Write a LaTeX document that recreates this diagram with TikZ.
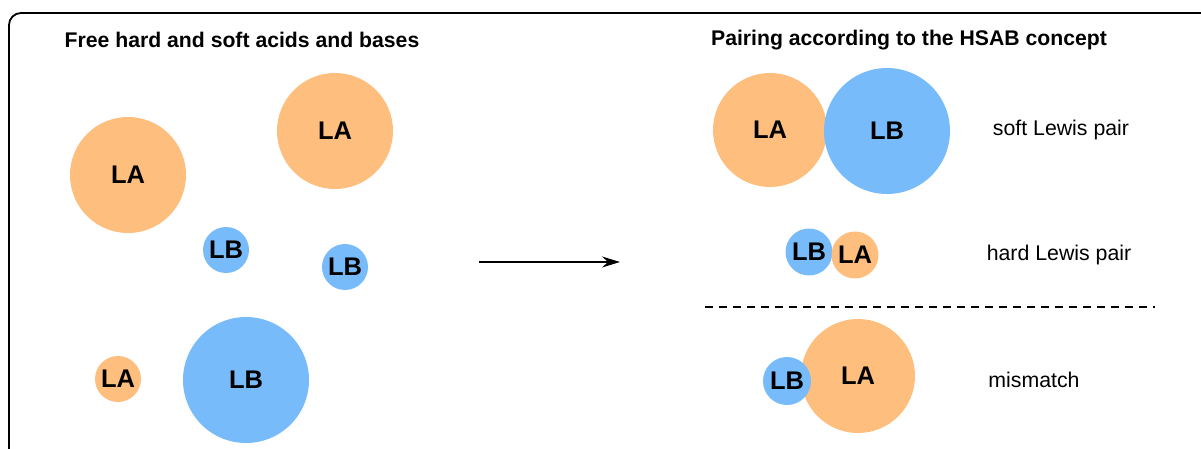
\documentclass[tikz,border=0pt]{standalone}
\usepackage{fontspec}
\setmainfont{Liberation Sans}
\usetikzlibrary{arrows.meta}
\definecolor{acid}{RGB}{254,190,125}
\definecolor{base}{RGB}{120,187,250}
\tikzset{
  la/.style={circle, fill=acid, draw=none, inner sep=0pt, font=\fontsize{25.5}{27}\selectfont\bfseries},
  lb/.style={circle, fill=base, draw=none, inner sep=0pt, font=\fontsize{25.5}{27}\selectfont\bfseries},
  ttl/.style={font=\fontsize{21.2}{23}\selectfont\bfseries, inner sep=0pt},
  lbl/.style={font=\fontsize{21.3}{23}\selectfont, inner sep=0pt},
}
\begin{document}
\begin{tikzpicture}[x=1pt,y=-1pt]
\useasboundingbox (0,0) rectangle (1201,449);
% frame
\draw[line width=1.8pt, rounded corners=12pt] (9,455) |- (1210,13);
% titles
\node[ttl] (t1) at (242,40) {Free hard and soft acids and bases};
\node[ttl] (t2) at (909,40) {Pairing according to the HSAB concept};
% left panel
\node[la, minimum size=116pt] (la1) at (128,175) {LA};
\node[la, minimum size=116pt] (la2) at (335,131) {LA};
\node[lb, minimum size=46pt] (lb1) at (226,250) {LB};
\node[lb, minimum size=46pt] (lb2) at (345,267) {LB};
\node[la, minimum size=46pt] (la3) at (118,379) {LA};
\node[lb, minimum size=126pt] (lb3) at (246,380) {LB};
% arrow
\coordinate (a1) at (479,262);
\coordinate (a2) at (620,262);
\draw[line width=1.8pt, -{Stealth[length=18pt,width=11pt,inset=6pt]}] (a1) -- (a2);
% right panel
\node[la, minimum size=114pt] (sla) at (770,130) {LA};
\node[lb, minimum size=126pt] (slb) at (887,131) {LB};
\node[lb, minimum size=47pt] (hlb) at (809,252) {LB};
\node[la, minimum size=47pt] (hla) at (855,255) {LA};
\node[la, minimum size=114pt] (mla) at (858,376) {LA};
\node[lb, minimum size=48pt] (mlb) at (787,381) {LB};
% dashed separator
\coordinate (d1) at (705,307);
\coordinate (d2) at (1155,307);
\draw[line width=1.3pt, dash pattern=on 8pt off 6pt] (d1) -- (d2);
% labels
\node[lbl] (l1) at (1061,130) {soft Lewis pair};
\node[lbl] (l2) at (1059,255) {hard Lewis pair};
\node[lbl] (l3) at (1034,380) {mismatch};
\end{tikzpicture}
\end{document}
